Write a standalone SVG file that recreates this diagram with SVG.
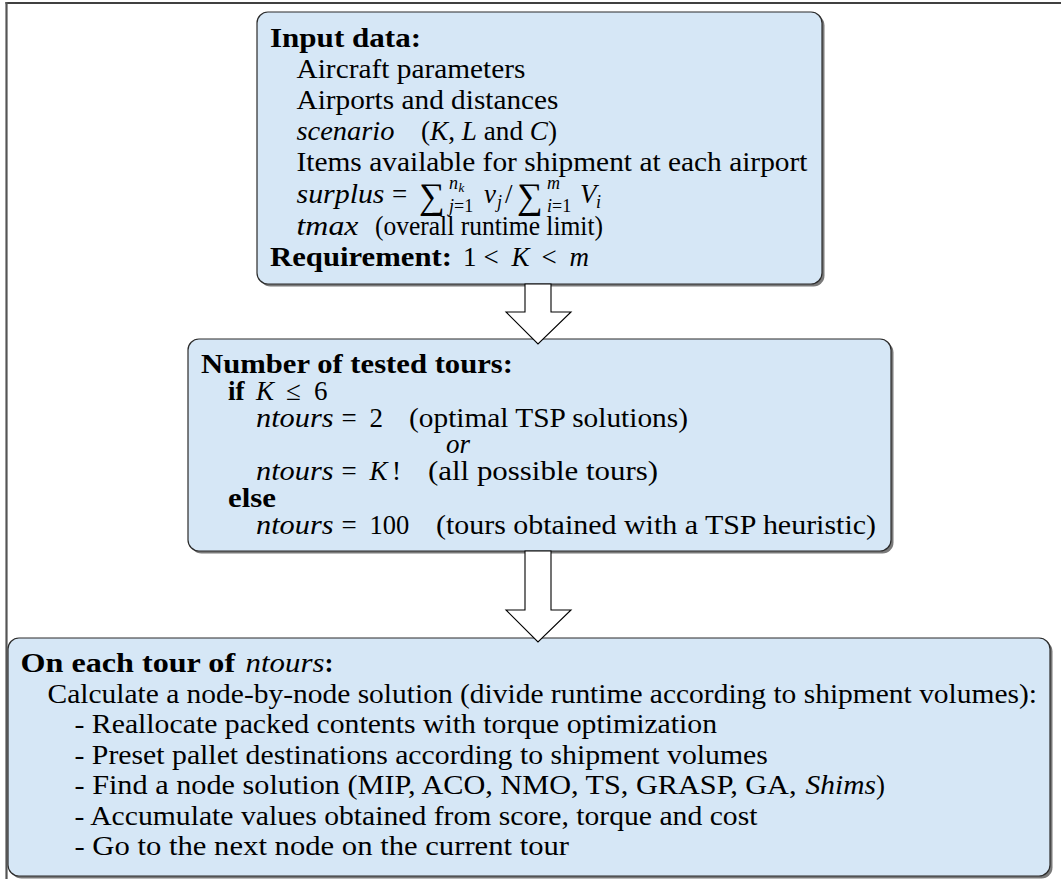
<svg xmlns="http://www.w3.org/2000/svg" width="1061" height="879" viewBox="0 0 1061 879">
<style>
text{font-family:"Liberation Serif","Times New Roman",serif;font-size:27px;fill:#000}
.b{font-weight:bold}
.i{font-style:italic}
.s{font-size:18px}
.ss{font-size:13px}
.box{fill:#d6e7f6;stroke:#2b2b2b;stroke-width:1.2}
.sh{fill:#7a7a7a}
.arr{fill:#fff;stroke:#000;stroke-width:1.1;stroke-linejoin:miter}
.big{font-size:36px}
</style>
<rect width="1061" height="879" fill="#fff"/>
<g id="frame">
<line x1="5.5" y1="3" x2="1061" y2="3" stroke="#000" stroke-width="1.6"/>
<line x1="6.5" y1="2" x2="6.5" y2="879" stroke="#555" stroke-width="2.2"/>
</g>

<g id="input">
<rect class="sh" x="259.5" y="14.5" width="565" height="272" rx="11"/>
<rect class="box" x="257" y="12" width="565" height="272" rx="11"/>
<text class="b" x="270" y="47" textLength="151" lengthAdjust="spacingAndGlyphs">Input data:</text>
<text x="296.5" y="78" textLength="229" lengthAdjust="spacingAndGlyphs">Aircraft parameters</text>
<text x="296.5" y="109" textLength="262" lengthAdjust="spacingAndGlyphs">Airports and distances</text>
<text class="i" x="296.5" y="140" textLength="98" lengthAdjust="spacingAndGlyphs">scenario</text>
<text x="421" y="140" textLength="136" lengthAdjust="spacingAndGlyphs">(<tspan class="i">K</tspan>, <tspan class="i">L</tspan> and <tspan class="i">C</tspan>)</text>
<text x="296.5" y="171" textLength="511" lengthAdjust="spacingAndGlyphs">Items available for shipment at each airport</text>
<text class="i" x="296.5" y="203" textLength="88" lengthAdjust="spacingAndGlyphs">surplus</text>
<text x="392" y="203">=</text>
<text class="big" x="419" y="208">∑</text>
<text class="i s" x="449" y="189">n</text>
<text class="i ss" x="458.5" y="192">k</text>
<text class="s" x="449" y="212"><tspan class="i">j</tspan>=1</text>
<text class="i" x="484" y="203">v</text>
<text class="i s" x="497" y="208">j</text>
<text x="505" y="203">/</text>
<text class="big" x="517" y="208">∑</text>
<text class="i s" x="547" y="189">m</text>
<text class="s" x="547" y="212"><tspan class="i">i</tspan>=1</text>
<text class="i" x="580" y="203">V</text>
<text class="i s" x="596" y="208">i</text>
<text class="i" x="296.5" y="235" textLength="62" lengthAdjust="spacingAndGlyphs">tmax</text>
<text x="375" y="235" textLength="228" lengthAdjust="spacingAndGlyphs">(overall runtime limit)</text>
<text class="b" x="270" y="266" textLength="182" lengthAdjust="spacingAndGlyphs">Requirement:</text>
<text x="463" y="266">1</text>
<text x="483.5" y="266">&lt;</text>
<text class="i" x="511.5" y="266">K</text>
<text x="541.5" y="266">&lt;</text>
<text class="i" x="569.5" y="266">m</text>
</g>

<g id="tours">
<rect class="sh" x="190.5" y="341.5" width="703" height="212" rx="11"/>
<rect class="box" x="188" y="339" width="703" height="212" rx="11"/>
<text class="b" x="201" y="373" textLength="312" lengthAdjust="spacingAndGlyphs">Number of tested tours:</text>
<text class="b" x="228" y="400">if</text>
<text class="i" x="256" y="400">K</text>
<text x="286" y="400">≤</text>
<text x="314" y="400">6</text>
<text class="i" x="256" y="426.5" textLength="77.6" lengthAdjust="spacingAndGlyphs">ntours</text>
<text x="341.5" y="426.5">=</text>
<text x="369.5" y="426.5">2</text>
<text x="409" y="426.5" textLength="279" lengthAdjust="spacingAndGlyphs">(optimal TSP solutions)</text>
<text class="i" x="446" y="453">or</text>
<text class="i" x="256" y="480" textLength="77.6" lengthAdjust="spacingAndGlyphs">ntours</text>
<text x="341.5" y="480">=</text>
<text class="i" x="369.5" y="480">K</text>
<text x="392" y="480">!</text>
<text x="428" y="480" textLength="230" lengthAdjust="spacingAndGlyphs">(all possible tours)</text>
<text class="b" x="228" y="507" textLength="48" lengthAdjust="spacingAndGlyphs">else</text>
<text class="i" x="256" y="533.5" textLength="77.6" lengthAdjust="spacingAndGlyphs">ntours</text>
<text x="341.5" y="533.5">=</text>
<text x="369.5" y="533.5" textLength="39.8" lengthAdjust="spacingAndGlyphs">100</text>
<text x="436" y="533.5" textLength="440" lengthAdjust="spacingAndGlyphs">(tours obtained with a TSP heuristic)</text>
</g>

<g id="each">
<rect class="sh" x="10.5" y="640.5" width="1042" height="238" rx="11"/>
<rect class="box" x="8" y="638" width="1042" height="238" rx="11"/>
<text class="b" x="20.5" y="672" textLength="214.6" lengthAdjust="spacingAndGlyphs">On each tour of</text>
<text class="i" x="245.5" y="672" textLength="79" lengthAdjust="spacingAndGlyphs">ntours</text>
<text class="b" x="324.5" y="672">:</text>
<text x="47.5" y="702.5" textLength="989.5" lengthAdjust="spacingAndGlyphs">Calculate a node-by-node solution (divide runtime according to shipment volumes):</text>
<text x="74.5" y="733" textLength="642.6" lengthAdjust="spacingAndGlyphs">- Reallocate packed contents with torque optimization</text>
<text x="74.5" y="763.5" textLength="693.4" lengthAdjust="spacingAndGlyphs">- Preset pallet destinations according to shipment volumes</text>
<text x="74.5" y="794" textLength="722" lengthAdjust="spacingAndGlyphs">- Find a node solution (MIP, ACO, NMO, TS, GRASP, GA,</text>
<text class="i" x="805.5" y="794" textLength="70.4" lengthAdjust="spacingAndGlyphs">Shims</text>
<text x="876" y="794">)</text>
<text x="74.5" y="824.5" textLength="683" lengthAdjust="spacingAndGlyphs">- Accumulate values obtained from score, torque and cost</text>
<text x="74.5" y="855" textLength="494.6" lengthAdjust="spacingAndGlyphs">- Go to the next node on the current tour</text>
</g>

<g id="connectors">
<polygon class="arr" points="525,284 551,284 551,312 571,312 538,344 506,312 525,312"/>
<polygon class="arr" points="525,551 551,551 551,610 571,610 538,642 506,610 525,610"/>
</g>
</svg>
